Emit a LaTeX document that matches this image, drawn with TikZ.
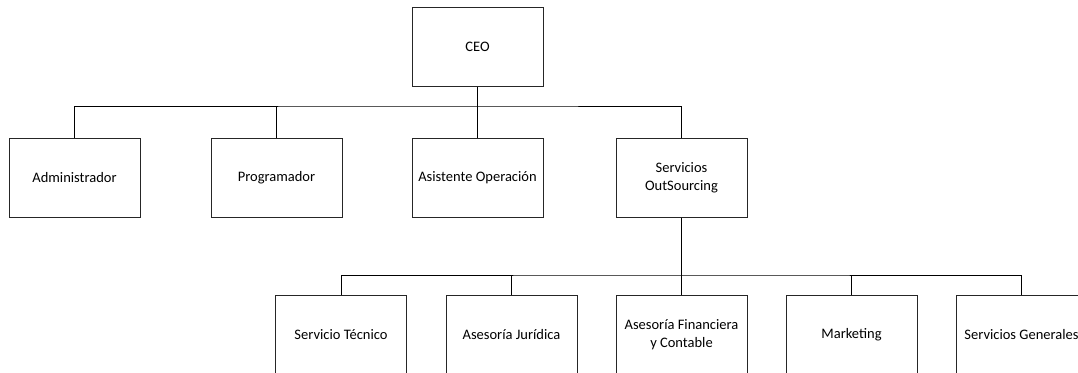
\documentclass[tikz,border=0pt]{standalone}
\usepackage{fontspec}
\setmainfont{Carlito}
\begin{document}
\begin{tikzpicture}[x=1pt,y=-1pt,
  box/.style={draw=black!85,line width=1pt,minimum width=131pt,minimum height=79pt,inner sep=0pt,align=center,font=\fontsize{14.5}{18}\selectfont},
  link/.style={draw=black,line width=1pt},
  stem/.style={draw=black,line width=1.8pt}]
\clip (0,0) rectangle (1078,372);
\fill[white] (0,0) rectangle (1078,372);
\node[box] (ceo) at (477.5,47) {CEO};
\node[box] (adm) at (74.5,177.5) {Administrador};
\node[box] (prog) at (276.5,177.5) {Programador};
\node[box] (asis) at (477.5,177.5) {Asistente Operación};
\node[box] (serv) at (681.5,177.5) {Servicios\\OutSourcing};
\node[box] (tec) at (341,334.5) {Servicio Técnico};
\node[box] (jur) at (511.5,334.5) {Asesoría Jurídica};
\node[box] (fin) at (681.5,334.5) {Asesoría Financiera\\y Contable};
\node[box] (mkt) at (851.5,334.5) {Marketing};
\node[box] (gen) at (1021.5,334.5) {Servicios Generales};
\coordinate (b1) at (477.5,106);
\coordinate (b2) at (681.5,275);
\draw[link] (adm.north) |- (b1) -| (serv.north);
\draw[link] (prog.north) -- (prog.north |- b1);
\draw[link] (asis.north) -- (b1);
\draw[stem] (ceo.south) -- (b1);
\draw[link] (tec.north) |- (b2) -| (gen.north);
\draw[link] (jur.north) -- (jur.north |- b2);
\draw[link] (mkt.north) -- (mkt.north |- b2);
\draw[link] (fin.north) -- (b2);
\draw[stem] (serv.south) -- (b2);
\end{tikzpicture}
\end{document}
